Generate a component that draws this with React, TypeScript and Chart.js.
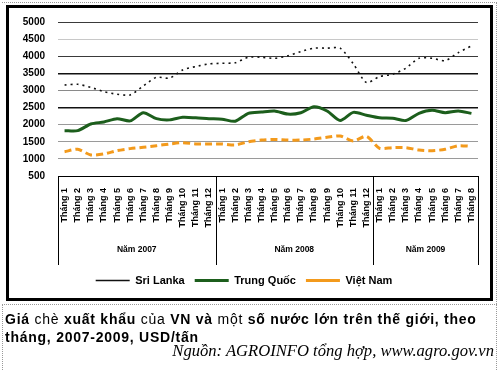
import React, { useEffect, useRef } from "react";
import { Chart, registerables } from "chart.js";

Chart.register(...registerables);

const monthLabels = [
  "Tháng 1", "Tháng 2", "Tháng 3", "Tháng 4", "Tháng 5", "Tháng 6",
  "Tháng 7", "Tháng 8", "Tháng 9", "Tháng 10", "Tháng 11", "Tháng 12",
  "Tháng 1", "Tháng 2", "Tháng 3", "Tháng 4", "Tháng 5", "Tháng 6",
  "Tháng 7", "Tháng 8", "Tháng 9", "Tháng 10", "Tháng 11", "Tháng 12",
  "Tháng 1", "Tháng 2", "Tháng 3", "Tháng 4", "Tháng 5", "Tháng 6",
  "Tháng 7", "Tháng 8",
];
const yearNames = ["Năm 2007", "Năm 2008", "Năm 2009"];
const monthsPerYear = [12, 12, 8];

const sriLanka = [
  3160, 3180, 3090, 2965, 2890, 2870, 3130, 3385, 3360, 3600, 3700, 3775,
  3795, 3810, 3970, 3970, 3940, 4010, 4135, 4235, 4235, 4235, 3780, 3230,
  3405, 3475, 3650, 3940, 3940, 3870, 4105, 4300,
];
const trungQuoc = [
  1825, 1825, 2020, 2080, 2175, 2110, 2350, 2175, 2140, 2215, 2200, 2175,
  2160, 2100, 2330, 2370, 2400, 2310, 2350, 2525, 2400, 2120, 2360, 2275,
  2200, 2190, 2120, 2330, 2420, 2350, 2400, 2330,
];
const vietNam = [
  1210, 1280, 1115, 1145, 1240, 1300, 1340, 1385, 1435, 1475, 1435, 1435,
  1435, 1405, 1500, 1550, 1570, 1550, 1550, 1580, 1630, 1670, 1525, 1660,
  1310, 1330, 1330, 1260, 1240, 1280, 1385, 1365,
];
const seriesNames = ["Sri Lanka", "Trung Quốc", "Việt Nam"];
const yMin = 500;
const yMax = 5000;
const yStep = 500;

const X_AXIS_HEIGHT = 89;

const gridColors: Record<number, string> = {
  500: "#000000",
  1000: "#9a9a9a",
  1500: "#9a9a9a",
  2000: "#9a9a9a",
  2500: "#111111",
  3000: "#8a8a8a",
  3500: "#111111",
  4000: "#3a3a3a",
  4500: "#c8c8c8",
  5000: "#3a3a3a",
};

const yearPlugin = {
  id: "yearGroups",
  afterDraw(chart: any) {
    const xs = chart.scales.x;
    const ctx = chart.ctx;
    const top = chart.chartArea.bottom;
    const bottom = top + X_AXIS_HEIGHT;
    const step = xs.getPixelForValue(1) - xs.getPixelForValue(0);
    ctx.save();
    ctx.strokeStyle = "#000";
    ctx.lineWidth = 1;
    let start = 0;
    const edges: number[] = [xs.getPixelForValue(0) - step / 2];
    monthsPerYear.forEach((n, gi) => {
      const left = xs.getPixelForValue(start) - step / 2;
      const right = xs.getPixelForValue(start + n - 1) + step / 2;
      edges.push(right);
      ctx.fillStyle = "#000";
      ctx.font = "bold 8.5px 'Liberation Sans', Arial, sans-serif";
      ctx.textAlign = "center";
      ctx.textBaseline = "middle";
      ctx.fillText(yearNames[gi], (left + right) / 2, top + 74);
      start += n;
    });
    edges.forEach((e) => {
      const xx = Math.round(e) + 0.5;
      ctx.beginPath();
      ctx.moveTo(xx, top);
      ctx.lineTo(xx, bottom);
      ctx.stroke();
    });
    ctx.restore();
  },
};

function ChartBox() {
  const ref = useRef<HTMLCanvasElement | null>(null);
  useEffect(() => {
    if (!ref.current) return;
    const chart = new Chart(ref.current, {
      type: "line",
      data: {
        labels: monthLabels,
        datasets: [
          {
            label: seriesNames[0],
            data: sriLanka,
            borderColor: "#111111",
            backgroundColor: "#111111",
            borderWidth: 1.6,
            borderDash: [2, 4],
            pointRadius: 0,
            tension: 0.25,
          },
          {
            label: seriesNames[1],
            data: trungQuoc,
            borderColor: "#1c5e1c",
            backgroundColor: "#1c5e1c",
            borderWidth: 3,
            pointRadius: 0,
            tension: 0.25,
          },
          {
            label: seriesNames[2],
            data: vietNam,
            borderColor: "#f39a1c",
            backgroundColor: "#f39a1c",
            borderWidth: 3,
            borderDash: [7, 4],
            pointRadius: 0,
            tension: 0.25,
          },
        ],
      },
      options: {
        animation: false,
        responsive: false,
        devicePixelRatio: 1,
        layout: { padding: { left: 10, right: 22, top: 22, bottom: 4 } },
        plugins: {
          tooltip: { enabled: false },
          legend: {
            position: "bottom",
            labels: {
              usePointStyle: true,
              pointStyle: "line",
              pointStyleWidth: 34,
              padding: 10,
              color: "#000",
              font: { family: "'Liberation Sans', Arial, sans-serif", size: 11, weight: "bold" },
            },
          },
        },
        scales: {
          x: {
            offset: true,
            grid: { display: false, drawTicks: false },
            border: { display: true, color: "#000", width: 1 },
            ticks: {
              autoSkip: false,
              maxRotation: 90,
              minRotation: 90,
              padding: 12,
              color: "#000",
              font: { family: "'Liberation Sans', Arial, sans-serif", size: 9, weight: "bold" },
            },
            afterFit(scale: any) {
              scale.height = X_AXIS_HEIGHT;
            },
          },
          y: {
            min: yMin,
            max: yMax,
            grid: {
              drawTicks: false,
              color: (c: any) => gridColors[c.tick?.value] || "#999",
              lineWidth: (c: any) => (c.tick?.value === 2500 || c.tick?.value === 3500 ? 1.5 : 1),
            },
            border: { display: false },
            ticks: {
              stepSize: yStep,
              padding: 13,
              color: "#000",
              callback: (v: any) => String(v),
              font: { family: "'Liberation Sans', Arial, sans-serif", size: 10, weight: "bold" },
            },
            afterFit(scale: any) {
              scale.width = 48;
            },
          },
        },
      },
      plugins: [yearPlugin],
    });
    return () => chart.destroy();
  }, []);
  return (
    <canvas
      ref={ref}
      width={500}
      height={300}
      style={{ position: "absolute", left: 0, top: 0, width: 500, height: 300 }}
    />
  );
}

export default function App() {
  useEffect(() => {
    document.body.style.margin = "0";
  }, []);
  const lightWeight = { fontWeight: "normal" as const };
  return (
    <div style={{ position: "relative", width: 500, height: 370, overflow: "hidden", background: "#fff" }}>
      <ChartBox />
      <div
        style={{
          position: "absolute", left: 2, top: 2, width: 495, height: 400,
          borderTop: "1px dotted #999", borderRight: "1px dotted #999", boxSizing: "border-box",
          pointerEvents: "none",
        }}
      />
      <div
        style={{
          position: "absolute", left: 6, top: 5, width: 487, height: 296,
          border: "3px solid #000", boxSizing: "border-box", pointerEvents: "none",
        }}
      />
      <div
        style={{
          position: "absolute", left: 2, top: 304, width: 495, height: 100,
          borderTop: "1px dotted #999", borderLeft: "1px dotted #999", boxSizing: "border-box",
          pointerEvents: "none",
        }}
      />
      <div
        style={{
          position: "absolute", left: 5, top: 310, width: 492,
          fontFamily: "'Liberation Sans', Arial, sans-serif", fontSize: 14, lineHeight: "18px",
          letterSpacing: "0.75px",
          fontWeight: "bold", color: "#000", whiteSpace: "nowrap",
        }}
      >
        <div>
          Giá <span style={lightWeight}>chè</span> xuất khẩu <span style={lightWeight}>của</span> VN và{" "}
          <span style={lightWeight}>một</span> số nước lớn trên thế giới, theo
        </div>
        <div>tháng, 2007-2009, USD/tấn</div>
      </div>
      <div
        style={{
          position: "absolute", right: 6, top: 342,
          fontFamily: "'Liberation Serif', 'Times New Roman', serif", fontStyle: "italic",
          fontSize: 16.6, lineHeight: "18px", color: "#000", whiteSpace: "nowrap",
        }}
      >
        Nguồn: AGROINFO tổng hợp, www.agro.gov.vn
      </div>
    </div>
  );
}
